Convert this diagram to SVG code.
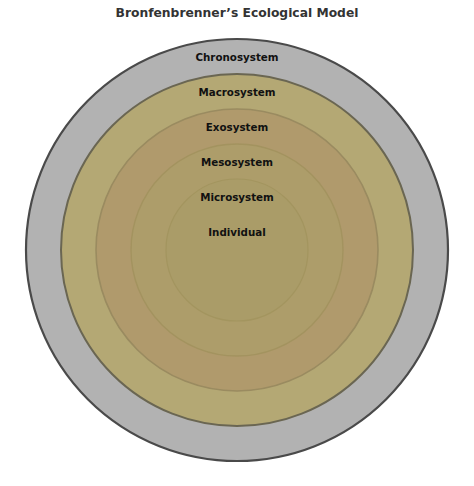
<svg xmlns="http://www.w3.org/2000/svg" width="474" height="486" viewBox="0 0 474 486">
<style>
.lbl{font-family:"DejaVu Sans",Verdana,sans-serif;font-weight:bold;font-size:10.3px;fill:#111;text-anchor:middle}
.title{font-family:"DejaVu Sans",Verdana,sans-serif;font-weight:bold;font-size:12.3px;fill:#333;text-anchor:middle}
</style>
<rect width="474" height="486" fill="#fff"/>
<text class="title" x="237" y="17">Bronfenbrenner’s Ecological Model</text>
<g id="chronosystem">
<circle cx="237" cy="250" r="211" fill="#b2b2b2" stroke="#4a4a4a" stroke-width="2.2"/>
<text class="lbl" x="237" y="60.5">Chronosystem</text>
</g>
<g id="macrosystem">
<circle cx="237" cy="250" r="176" fill="#b4a874" stroke="#6a6652" stroke-width="2"/>
<text class="lbl" x="237" y="95.5">Macrosystem</text>
</g>
<g id="exosystem">
<circle cx="237" cy="250" r="141" fill="#b09a6c" stroke="#9a8b60" stroke-width="1.6"/>
<text class="lbl" x="237" y="130.5">Exosystem</text>
</g>
<g id="mesosystem">
<circle cx="237" cy="250" r="106" fill="#ad9d6a" stroke="#a3935f" stroke-width="1.4"/>
<text class="lbl" x="237" y="165.5">Mesosystem</text>
</g>
<g id="microsystem">
<circle cx="237" cy="250" r="71" fill="#aa9c68" stroke="#a3955f" stroke-width="1.2"/>
<text class="lbl" x="237" y="200.5">Microsystem</text>
</g>
<g id="individual">
<text class="lbl" x="237" y="235.5">Individual</text>
</g>
<g id="connectors"/>
</svg>
